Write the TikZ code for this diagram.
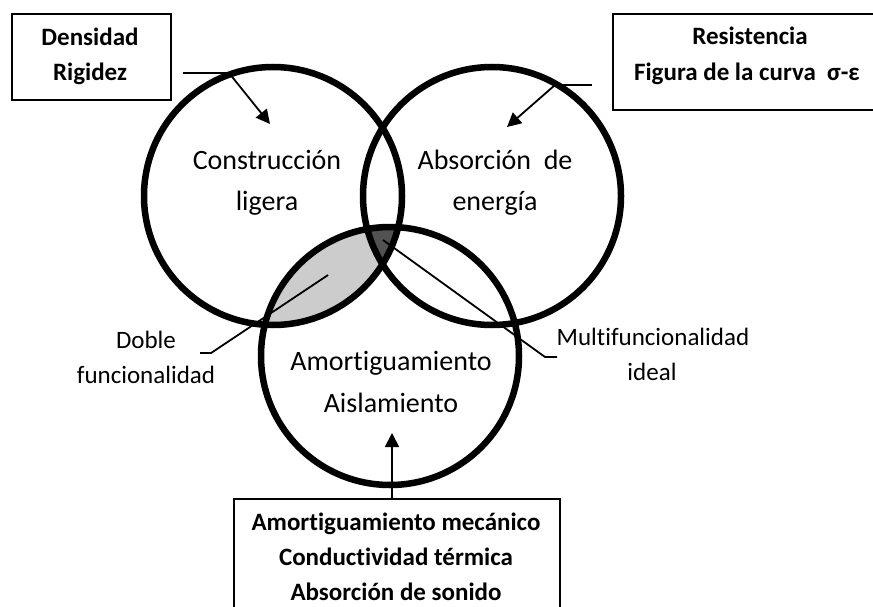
\documentclass[tikz,border=0pt]{standalone}
\usepackage{fontspec}
\setmainfont{Carlito}[Ligatures={NoCommon}]
\usetikzlibrary{arrows.meta}

\tikzset{
  ring/.style={circle, draw, line width=6.5pt, minimum size=258pt, inner sep=0pt},
  frame/.style={draw, line width=1.8pt, inner sep=0pt, rectangle},
  lbl/.style={font=\fontsize{28}{40}\selectfont, inner sep=0pt, anchor=base},
  side/.style={font=\fontsize{25}{35}\selectfont, inner sep=0pt, anchor=base},
  boxtxt/.style={font=\bfseries\fontsize{25}{36}\selectfont, inner sep=0pt, anchor=base},
  lead/.style={line width=1.8pt},
  pointer/.style={line width=1.8pt, -{Triangle[length=14pt,width=14pt]}},
  lightfill/.style={fill=black!20},
  darkfill/.style={fill=black!68},
}

\begin{document}
\begin{tikzpicture}[x=1pt, y=-1pt]
  \useasboundingbox (0,0) rectangle (873,607);
  \clip (0,0) rectangle (873,607);

  % centres of the three sets
  \coordinate (cL) at (273,196);
  \coordinate (cR) at (492,196);
  \coordinate (cB) at (390,356);

  % shaded overlaps
  \begin{scope}
    \clip (cL) circle[radius=129pt];
    \fill[lightfill] (cB) circle[radius=129pt];
  \end{scope}
  \begin{scope}
    \clip (cL) circle[radius=129pt];
    \clip (cR) circle[radius=129pt];
    \fill[darkfill] (cB) circle[radius=129pt];
  \end{scope}

  % the three sets
  \node[ring] (L) at (cL) {};
  \node[ring] (R) at (cR) {};
  \node[ring] (B) at (cB) {};

  % labels inside the sets
  \node[lbl] (lA1) at (267,170) {Construcción};
  \node[lbl] (lA2) at (267,210) {ligera};
  \node[lbl] (lB1) at (495,170) {Absorción\ \ de};
  \node[lbl] (lB2) at (495,210) {energía};
  \node[lbl] (lC1) at (391,370) {Amortiguamiento};
  \node[lbl] (lC2) at (391,412) {Aislamiento};

  % side labels
  \node[side] (d1) at (146,348) {Doble};
  \node[side] (d2) at (146,383) {funcionalidad};
  \node[side] (m1) at (653,345) {Multifuncionalidad};
  \node[side] (m2) at (652,380) {ideal};

  % property boxes
  \node[frame, minimum width=159pt, minimum height=86pt, anchor=north west] (TL) at (11,13) {};
  \node[boxtxt] (tl1) at (90,46) {Densidad};
  \node[boxtxt] (tl2) at (90,81) {Rigidez};

  \node[frame, minimum width=300pt, minimum height=96pt, anchor=north west] (TR) at (612,13) {};
  \node[boxtxt] (tr1) at (750,45) {Resistencia};
  \node[boxtxt] (tr2) at (747,81) {Figura de la curva\ \ σ-ε};

  \node[frame, minimum width=326pt, minimum height=150pt, anchor=north west] (BB) at (233,498) {};
  \node[boxtxt] (bb1) at (396,530) {Amortiguamiento mecánico};
  \node[boxtxt] (bb2) at (396,565) {Conductividad térmica};
  \node[boxtxt] (bb3) at (396,600) {Absorción de sonido};

  % pointers from the boxes into the sets
  \coordinate (tlA) at (183,73);
  \coordinate (tlB) at (229,73);
  \coordinate (tlTip) at (270,124);
  \draw[lead] (tlA) -- (tlB);
  \draw[pointer] (tlB) -- (tlTip);

  \coordinate (trA) at (592,85);
  \coordinate (trB) at (555,85);
  \coordinate (trTip) at (507,127);
  \draw[lead] (trA) -- (trB);
  \draw[pointer] (trB) -- (trTip);

  \coordinate (bTip) at (392,433);
  \draw[pointer] (BB.north -| bTip) -- (bTip);

  % leaders to the overlaps
  \coordinate (dbA) at (200,353);
  \coordinate (dbB) at (211,353);
  \coordinate (dbC) at (328,275);
  \draw[lead] (dbA) -- (dbB) -- (dbC);

  \coordinate (mfA) at (383,240);
  \coordinate (mfB) at (545,357);
  \coordinate (mfC) at (557,357);
  \draw[lead] (mfA) -- (mfB) -- (mfC);
\end{tikzpicture}
\end{document}
